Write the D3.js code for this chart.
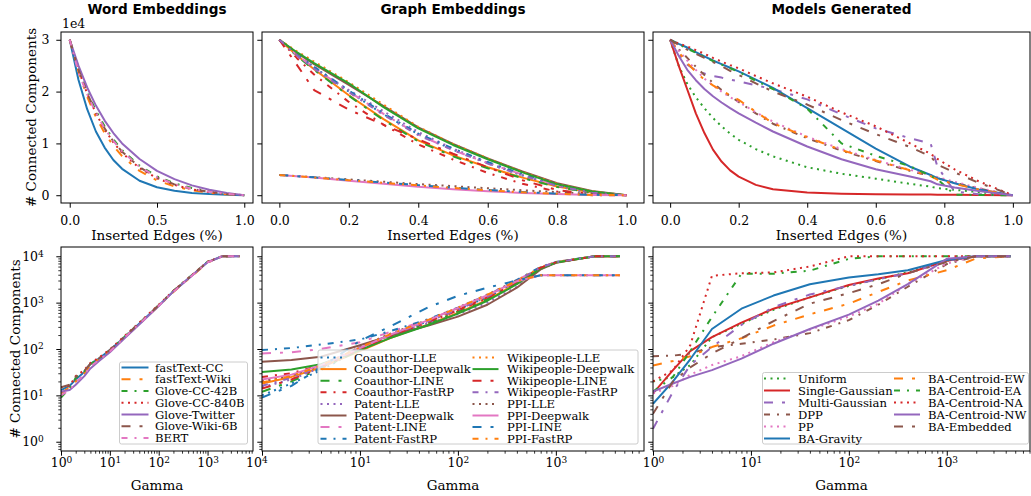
<!DOCTYPE html>
<html>
<head>
<meta charset="utf-8">
<script src="https://cdn.jsdelivr.net/npm/d3@7"></script>
<style>
  body { margin: 0; background: #fff; }
  text { font-family: "DejaVu Serif", serif; fill: #000; }
  .title { font-family: "DejaVu Sans", sans-serif; font-weight: bold; font-size: 13.6px; }
</style>
</head>
<body>
<script>
'use strict'

// ---------- data ----------
// top row: number of connected components vs. fraction of inserted edges
let wordNames = ['fastText-CC', 'fastText-Wiki', 'Glove-CC-42B', 'Glove-CC-840B', 'Glove-Twitter', 'Glove-Wiki-6B', 'BERT']
let wordEdgeX = [0, 0.05, 0.1, 0.15, 0.2, 0.25, 0.3, 0.4, 0.5, 0.6, 0.7, 0.8, 0.9, 1.0]
let wordEdges = [
  [30000, 22300, 16600, 12300, 9200, 6800, 5100, 2800, 1550, 850, 450, 220, 80, 0],
  [30000, 23900, 19000, 15100, 12000, 9540, 7530, 4680, 2850, 1710, 960, 480, 180, 0],
  [30000, 24600, 20000, 16300, 13300, 10800, 8700, 5700, 3650, 2300, 1380, 760, 300, 0],
  [30000, 24200, 19600, 15800, 12700, 10200, 8190, 5220, 3270, 1980, 1140, 600, 240, 0],
  [30000, 25000, 20800, 17300, 14400, 12000, 10000, 7000, 4700, 3100, 1900, 1050, 420, 0],
  [30000, 24300, 19700, 16000, 12900, 10400, 8400, 5400, 3400, 2100, 1200, 620, 250, 0],
  [30000, 23700, 19500, 15900, 12900, 10500, 8500, 5500, 3500, 2150, 1250, 680, 280, 0]
]

let graphNames = ['Coauthor-LLE', 'Coauthor-Deepwalk', 'Coauthor-LINE', 'Coauthor-FastRP',
                  'Patent-LLE', 'Patent-Deepwalk', 'Patent-LINE', 'Patent-FastRP',
                  'Wikipeople-LLE', 'Wikipeople-Deepwalk', 'Wikipeople-LINE', 'Wikipeople-FastRP',
                  'PPI-LLE', 'PPI-Deepwalk', 'PPI-LINE', 'PPI-FastRP']
let graphEdgeX = [0, 0.05, 0.1, 0.2, 0.3, 0.4, 0.5, 0.6, 0.7, 0.8, 0.9, 1.0]
let graphEdges = [
  [30000, 27200, 24700, 20000, 15600, 11800, 8800, 6200, 3800, 1700, 400, 0],
  [30000, 27000, 24300, 19300, 14700, 10600, 7700, 5400, 3400, 1700, 500, 0],
  [30000, 26900, 24200, 19200, 14500, 10400, 7500, 5200, 3300, 1600, 500, 0],
  [30000, 26500, 23300, 18000, 13600, 9800, 6900, 4300, 2200, 700, 0, 0],
  [30000, 27000, 24500, 20300, 16200, 12200, 9000, 6300, 3900, 1800, 500, 0],
  [30000, 27500, 25300, 21300, 17200, 13100, 9900, 7100, 4600, 2300, 800, 0],
  [30000, 27100, 24600, 20000, 15700, 11700, 8700, 6200, 4000, 2000, 650, 0],
  [30000, 27100, 24800, 20200, 15800, 11900, 9000, 6400, 4100, 2000, 650, 0],
  [30000, 27800, 25800, 21800, 17500, 13200, 9900, 7100, 4500, 2200, 750, 0],
  [30000, 27600, 25500, 21600, 17000, 12900, 9700, 6950, 4400, 2100, 700, 0],
  [30000, 25200, 20300, 16500, 13600, 10800, 8000, 5400, 2900, 1000, 200, 0],
  [30000, 27000, 24400, 19900, 15500, 11600, 8700, 6100, 3800, 1800, 500, 0],
  [3900, 3700, 3500, 3050, 2600, 2150, 1750, 1350, 950, 600, 250, 0],
  [3900, 3650, 3400, 2800, 2200, 1650, 1150, 750, 450, 220, 60, 0],
  [3900, 3680, 3450, 2950, 2450, 1950, 1450, 1000, 620, 300, 80, 0],
  [3900, 3670, 3420, 2900, 2400, 1900, 1400, 950, 580, 280, 60, 0]
]

let modelNames = ['Uniform', 'Single-Gaussian', 'Multi-Gaussian', 'DPP', 'PP', 'BA-Gravity',
                  'BA-Centroid-EW', 'BA-Centroid-EA', 'BA-Centroid-NA', 'BA-Centroid-NW', 'BA-Embedded']
let modelEdgeX = [0, 0.025, 0.05, 0.075, 0.1, 0.125, 0.15, 0.175, 0.2, 0.25, 0.3, 0.4, 0.5, 0.6, 0.7, 0.76, 0.78, 0.83, 0.9, 1.0]
let modelEdges = [
  [30000, 25000, 21500, 18900, 16800, 14900, 13300, 11900, 10700, 8900, 7500, 5400, 4150, 3200, 2200, 1650, 1350, 1050, 600, 0],
  [30000, 25000, 20400, 15800, 12000, 8800, 6500, 4800, 3600, 2000, 1150, 520, 300, 200, 150, 120, 100, 80, 50, 0],
  [30000, 27300, 25200, 24100, 23500, 23000, 22700, 22300, 22000, 21200, 20500, 18500, 15600, 12900, 11000, 10000, 5500, 700, 200, 0],
  [30000, 28200, 26500, 24800, 23200, 21700, 20300, 19100, 18000, 15800, 13800, 11000, 8600, 6600, 4700, 3700, 3300, 2400, 1300, 0],
  [30000, 27900, 26000, 24200, 22500, 21200, 20000, 18900, 18000, 16000, 14200, 11300, 8900, 6800, 4900, 3900, 3500, 2600, 1400, 0],
  [30000, 29200, 28500, 27600, 26800, 26000, 25300, 24600, 23900, 22300, 20700, 16800, 12900, 9000, 5500, 3900, 3300, 2300, 1100, 0],
  [30000, 27600, 25500, 23800, 22300, 21200, 20200, 19300, 18400, 16100, 13900, 11200, 8700, 6700, 4800, 3700, 3000, 2200, 1100, 0],
  [30000, 29100, 28300, 27500, 26700, 25900, 25200, 24500, 23800, 22100, 20500, 16700, 10000, 7600, 5600, 3700, 3100, 100, 50, 0],
  [30000, 29300, 28700, 28000, 27300, 26500, 25800, 25100, 24500, 23000, 21600, 19000, 16000, 13300, 10000, 8000, 7000, 5000, 2700, 0],
  [30000, 26900, 24200, 22200, 20500, 19100, 17900, 16800, 15800, 14000, 12300, 9400, 6950, 5000, 3600, 2700, 2100, 1500, 800, 0],
  [30000, 29000, 28100, 27300, 26500, 25700, 24900, 24000, 23200, 21600, 20000, 17500, 14500, 11800, 9300, 7500, 5900, 4400, 2400, 0]
]

// bottom row: number of connected components vs. gamma (log-log)
let wordGammaX = [1, 1.5, 2, 3, 4, 6, 10, 20, 50, 100, 200, 500, 1000, 2000, 4500]
let wordGamma = [
  [13, 16, 22, 32, 48, 62, 95, 180, 440, 870, 1750, 4000, 7500, 10000, 10000],
  [11, 15, 20, 30, 45, 60, 90, 175, 430, 850, 1700, 3900, 7300, 10000, 10000],
  [9, 14, 24, 33, 47, 63, 92, 185, 450, 880, 1800, 4100, 7600, 10000, 10000],
  [15, 16, 26, 35, 50, 65, 98, 190, 460, 900, 1800, 4100, 7600, 10000, 10000],
  [12, 13, 17, 26, 38, 55, 85, 170, 420, 840, 1750, 4000, 7400, 10000, 10000],
  [15, 17, 25, 34, 48, 63, 95, 185, 450, 880, 1780, 4050, 7500, 10000, 10000],
  [10, 13, 19, 28, 42, 58, 88, 178, 435, 860, 1720, 3950, 7400, 10000, 10000]
]

let graphGammaX = [1, 2, 4, 10, 20, 50, 100, 200, 400, 700, 1000, 2500, 4500]
let graphGamma = [
  [10, 18, 35, 100, 190, 400, 720, 1300, 2800, 5800, 7400, 10000, 10000],
  [18, 25, 40, 90, 170, 340, 600, 1150, 2600, 5500, 7300, 10000, 10000],
  [12, 20, 38, 95, 180, 360, 640, 1200, 2700, 5600, 7400, 10000, 10000],
  [25, 30, 45, 100, 185, 380, 680, 1250, 2800, 5700, 7400, 10000, 10000],
  [15, 22, 40, 110, 200, 360, 560, 1000, 2200, 5300, 7200, 10000, 10000],
  [53, 58, 68, 120, 190, 320, 500, 900, 2100, 5200, 7200, 10000, 10000],
  [80, 85, 100, 140, 230, 430, 760, 1400, 3000, 5800, 7500, 10000, 10000],
  [95, 105, 125, 160, 240, 440, 780, 1450, 3100, 5900, 7500, 10000, 10000],
  [20, 26, 42, 105, 200, 420, 760, 1400, 3000, 5800, 7500, 10000, 10000],
  [32, 36, 47, 95, 170, 330, 580, 1100, 2500, 5400, 7300, 10000, 10000],
  [14, 22, 40, 100, 190, 390, 690, 1300, 2850, 5700, 7400, 10000, 10000],
  [16, 24, 42, 105, 195, 400, 700, 1350, 2900, 5750, 7450, 10000, 10000],
  [20, 27, 44, 110, 210, 430, 780, 1500, 3000, 3900, 3900, 3900, 3900],
  [22, 28, 45, 105, 200, 420, 770, 1450, 2900, 3900, 3900, 3900, 3900],
  [9, 16, 40, 150, 300, 800, 1400, 2100, 3000, 3900, 3900, 3900, 3900],
  [19, 26, 44, 108, 205, 425, 775, 1480, 2950, 3900, 3900, 3900, 3900]
]

let modelGammaX = [1, 1.6, 2.4, 4, 8, 17, 40, 100, 200, 400, 1000, 2000, 4500]
let modelGamma = [
  [20, 25, 45, 180, 350, 700, 1300, 2300, 3200, 4500, 8000, 10000, 10000],
  [11, 35, 90, 180, 370, 740, 1300, 2400, 3300, 4300, 8000, 10000, 10000],
  [1.9, 12, 45, 110, 330, 800, 1500, 2300, 3200, 4300, 8000, 10000, 10000],
  [70, 72, 80, 110, 130, 160, 220, 420, 900, 2200, 6800, 10000, 10000],
  [11, 16, 28, 45, 70, 140, 260, 500, 950, 2500, 7000, 10000, 10000],
  [6.6, 20, 60, 270, 740, 1420, 2500, 3500, 4100, 5000, 8300, 10000, 10000],
  [44, 55, 70, 110, 170, 320, 560, 950, 1700, 3000, 5000, 9000, 10000],
  [12, 25, 90, 490, 4200, 4200, 4900, 8800, 10000, 10000, 10000, 10000, 10000],
  [20, 35, 120, 3800, 4300, 4500, 6000, 10000, 10000, 10000, 10000, 10000, 10000],
  [12, 18, 25, 35, 62, 130, 270, 550, 1100, 2500, 8800, 10000, 10000],
  [4, 20, 40, 80, 170, 400, 950, 1600, 2500, 4300, 7500, 10000, 10000]
]

// ticks
let edgeTicksNarrow = [0, 0.5, 1.0]
let edgeTicksWide = [0, 0.2, 0.4, 0.6, 0.8, 1.0]
let countTicks = [0, 10000, 20000, 30000]
let countTickLabels = ['0', '1', '2', '3']
let logTicks = [1, 10, 100, 1000, 10000]
// which decade labels each gamma panel shows (the rest overlap a neighbour)
let gammaTickLabels = [[1, 10, 100, 1000, 10000], [10, 100, 1000], [1, 10, 100, 1000]]

// ---------- styles ----------
let palette = ['#1f77b4', '#ff7f0e', '#2ca02c', '#d62728', '#9467bd', '#8c564b', '#e377c2']
let dashCycle = [null, '9,9,3,9', '6,7,2,7', '2,4.5']   // solid, long-short, short-dot, dotted

let cols = [{x0: 61, x1: 253}, {x0: 262, x1: 644}, {x0: 653, x1: 1030}]
let topRow = {y0: 32, y1: 203, labelX: 36}
let botRow = {y0: 247, y1: 451, labelX: 20}

let svg = d3.select('body').append('svg')
            .attr('width', 1031)
            .attr('height', 496)

let clipCount = 0

function minorLogTicks(lo, hi) {
  let out = []
  for (let e = Math.floor(Math.log10(lo)); e <= Math.ceil(Math.log10(hi)); e++) {
    for (let m = 2; m < 10; m++) {
      let v = m * Math.pow(10, e)
      if (v >= lo && v <= hi) out.push(v)
    }
  }
  return out
}

function supText(sel) {
  sel.each(function(d) {
    let t = d3.select(this).text('10')
    t.append('tspan')
     .attr('dy', '-0.48em')
     .attr('font-size', '0.72em')
     .text(Math.round(Math.log10(d)))
  })
}

function axisFont(sel) {
  sel.attr('font-family', 'DejaVu Serif').attr('font-size', 12.5)
}

function drawPanel(p) {
  let g = svg.append('g')
  let w = p.x1 - p.x0, h = p.y1 - p.y0

  g.append('rect')
   .attr('x', p.x0).attr('y', p.y0).attr('width', w).attr('height', h)
   .attr('fill', '#fff')

  let id = 'clip' + (clipCount++)
  g.append('clipPath').attr('id', id)
   .append('rect').attr('x', p.x0).attr('y', p.y0).attr('width', w).attr('height', h)

  let line = d3.line()
               .x(d => p.xs(d[0]))
               .y(d => p.ys(d[1]))

  let lines = g.append('g').attr('clip-path', 'url(#' + id + ')')
  p.rows.forEach((row, i) => {
    lines.append('path')
         .datum(row.map((v, j) => [p.xv[j], v]))
         .attr('d', line)
         .attr('fill', 'none')
         .attr('stroke', palette[(p.c0 + i) % palette.length])
         .attr('stroke-width', 2)
         .attr('stroke-linejoin', 'round')
         .attr('stroke-dasharray', dashCycle[(p.s0 + i) % dashCycle.length])
  })

  // x axis
  let xa = d3.axisBottom(p.xs).tickValues(p.xTicks).tickSize(4.7)
  if (p.log) {
    xa.tickFormat('').tickPadding(0)
  } else {
    xa.tickFormat(d3.format('.1f')).tickPadding(8.3)
  }
  let gx = g.append('g')
            .attr('transform', 'translate(0,' + p.y1 + ')')
            .call(xa)
            .call(axisFont)
  gx.select('.domain').remove()
  gx.selectAll('line').attr('stroke', '#000')
  if (p.log) {
    gx.selectAll('.tick text')
      .filter(d => p.xLabelled.includes(d))
      .attr('y', 16).attr('dy', 0).call(supText)
    let minor = minorLogTicks(p.xs.domain()[0], p.xs.domain()[1])
    g.append('g')
     .attr('transform', 'translate(0,' + p.y1 + ')')
     .call(d3.axisBottom(p.xs).tickValues(minor).tickSize(2.7).tickFormat(''))
     .call(s => s.select('.domain').remove())
     .selectAll('line').attr('stroke', '#000').attr('stroke-width', 0.8)
    gx.selectAll('.tick').filter(d => d > p.xs.domain()[1]).select('line').remove()
  }

  // y axis
  let ya = d3.axisLeft(p.ys).tickValues(p.yTicks).tickSize(4.7)
  if (!p.yLabels) {
    ya.tickFormat('')
  } else if (p.log) {
    ya.tickFormat('').tickPadding(12.5)
  } else {
    ya.tickFormat((d, i) => countTickLabels[i]).tickPadding(6.8)
  }
  let gy = g.append('g')
            .attr('transform', 'translate(' + p.x0 + ',0)')
            .call(ya)
            .call(axisFont)
  gy.select('.domain').remove()
  gy.selectAll('line').attr('stroke', '#000')
  if (p.log) {
    if (p.yLabels) gy.selectAll('.tick text').attr('dy', '0.33em').call(supText)
    let minor = minorLogTicks(p.ys.domain()[0], p.ys.domain()[1])
    g.append('g')
     .attr('transform', 'translate(' + p.x0 + ',0)')
     .call(d3.axisLeft(p.ys).tickValues(minor).tickSize(2.7).tickFormat(''))
     .call(s => s.select('.domain').remove())
     .selectAll('line').attr('stroke', '#000').attr('stroke-width', 0.8)
  }

  // frame
  g.append('rect')
   .attr('x', p.x0).attr('y', p.y0).attr('width', w).attr('height', h)
   .attr('fill', 'none').attr('stroke', '#000').attr('stroke-width', 1)

  g.append('text')
   .attr('x', (p.x0 + p.x1) / 2)
   .attr('y', p.xLabelY)
   .attr('text-anchor', 'middle')
   .attr('font-size', 13.5)
   .text(p.xLabel)

  if (p.legend) drawLegend(g, p.legend, p.names, p.c0, p.s0)
  return g
}

function drawLegend(g, L, names, c0, s0) {
  g.append('rect')
   .attr('x', L.x).attr('y', L.y).attr('width', L.w).attr('height', L.h)
   .attr('rx', 2)
   .attr('fill', '#fff').attr('fill-opacity', 0.8)
   .attr('stroke', '#cccccc').attr('stroke-width', 1)
  names.forEach((n, i) => {
    let c = Math.floor(i / L.rows), r = i % L.rows
    let y = L.rowY + r * L.rowH
    g.append('line')
     .attr('x1', L.handleX[c]).attr('x2', L.handleX[c] + L.handleW)
     .attr('y1', y).attr('y2', y)
     .attr('stroke', palette[(c0 + i) % palette.length])
     .attr('stroke-width', 2)
     .attr('stroke-dasharray', dashCycle[(s0 + i) % dashCycle.length])
    g.append('text')
     .attr('x', L.textX[c]).attr('y', y).attr('dy', '0.36em')
     .attr('font-size', 11.6)
     .text(n)
  })
}

// ---------- panels ----------
let topSets = [
  {names: wordNames, xv: wordEdgeX, rows: wordEdges, c0: 0, s0: 0, ticks: edgeTicksNarrow},
  {names: graphNames, xv: graphEdgeX, rows: graphEdges, c0: 0, s0: 3, ticks: edgeTicksWide},
  {names: modelNames, xv: modelEdgeX, rows: modelEdges, c0: 2, s0: 3, ticks: edgeTicksWide}
]
let botSets = [
  {xv: wordGammaX, rows: wordGamma, xmax: 3.93},
  {xv: graphGammaX, rows: graphGamma, xmax: 3.9},
  {xv: modelGammaX, rows: modelGamma, xmax: 3.85}
]
let legends = [
  {x: 119.5, y: 362, w: 128, h: 82, rows: 7, rowY: 367.5, rowH: 11.75, handleX: [121.5], handleW: 27, textX: [155]},
  {x: 318, y: 350, w: 320, h: 94, rows: 8, rowY: 357.5, rowH: 11.6, handleX: [320.5, 472.5], handleW: 26, textX: [354, 507]},
  {x: 762.5, y: 372.5, w: 266, h: 71.5, rows: 6, rowY: 378.5, rowH: 12, handleX: [764, 894], handleW: 26, textX: [798, 928]}
]
let titles = ['Word Embeddings', 'Graph Embeddings', 'Models Generated']

topSets.forEach((s, k) => {
  let c = cols[k]
  drawPanel({
    x0: c.x0, x1: c.x1, y0: topRow.y0, y1: topRow.y1,
    xs: d3.scaleLinear().domain([-0.05, 1.05]).range([c.x0, c.x1]),
    ys: d3.scaleLinear().domain([-1500, 31500]).range([topRow.y1, topRow.y0]),
    xv: s.xv, rows: s.rows, names: s.names, c0: s.c0, s0: s.s0,
    xTicks: s.ticks, yTicks: countTicks, yLabels: k === 0, log: false,
    xLabel: 'Inserted Edges (%)', xLabelY: 239.5
  })
  svg.append('text')
     .attr('class', 'title')
     .attr('x', (c.x0 + c.x1) / 2)
     .attr('y', 14)
     .attr('text-anchor', 'middle')
     .text(titles[k])
})

botSets.forEach((s, k) => {
  let c = cols[k]
  drawPanel({
    x0: c.x0, x1: c.x1, y0: botRow.y0, y1: botRow.y1,
    xs: d3.scaleLog().domain([1, Math.pow(10, s.xmax)]).range([c.x0, c.x1]),
    ys: d3.scaleLog().domain([Math.pow(10, -0.2), Math.pow(10, 4.2)]).range([botRow.y1, botRow.y0]),
    xv: s.xv, rows: s.rows, names: topSets[k].names, c0: topSets[k].c0, s0: topSets[k].s0,
    xTicks: logTicks.filter(d => d <= Math.pow(10, s.xmax) || gammaTickLabels[k].includes(d)),
    xLabelled: gammaTickLabels[k],
    yTicks: [1, 10, 100, 1000, 10000], yLabels: k === 0, log: true,
    xLabel: 'Gamma', xLabelY: 490,
    legend: legends[k]
  })
})

svg.append('text')
   .attr('x', 62).attr('y', 28)
   .attr('font-size', 12.5)
   .text('1e4')

;[topRow, botRow].forEach(r => {
  svg.append('text')
     .attr('text-anchor', 'middle')
     .attr('font-size', 13.5)
     .attr('transform', 'translate(' + r.labelX + ',' + ((r.y0 + r.y1) / 2) + ')rotate(-90)')
     .text('# Connected Components')
})
</script>
</body>
</html>
